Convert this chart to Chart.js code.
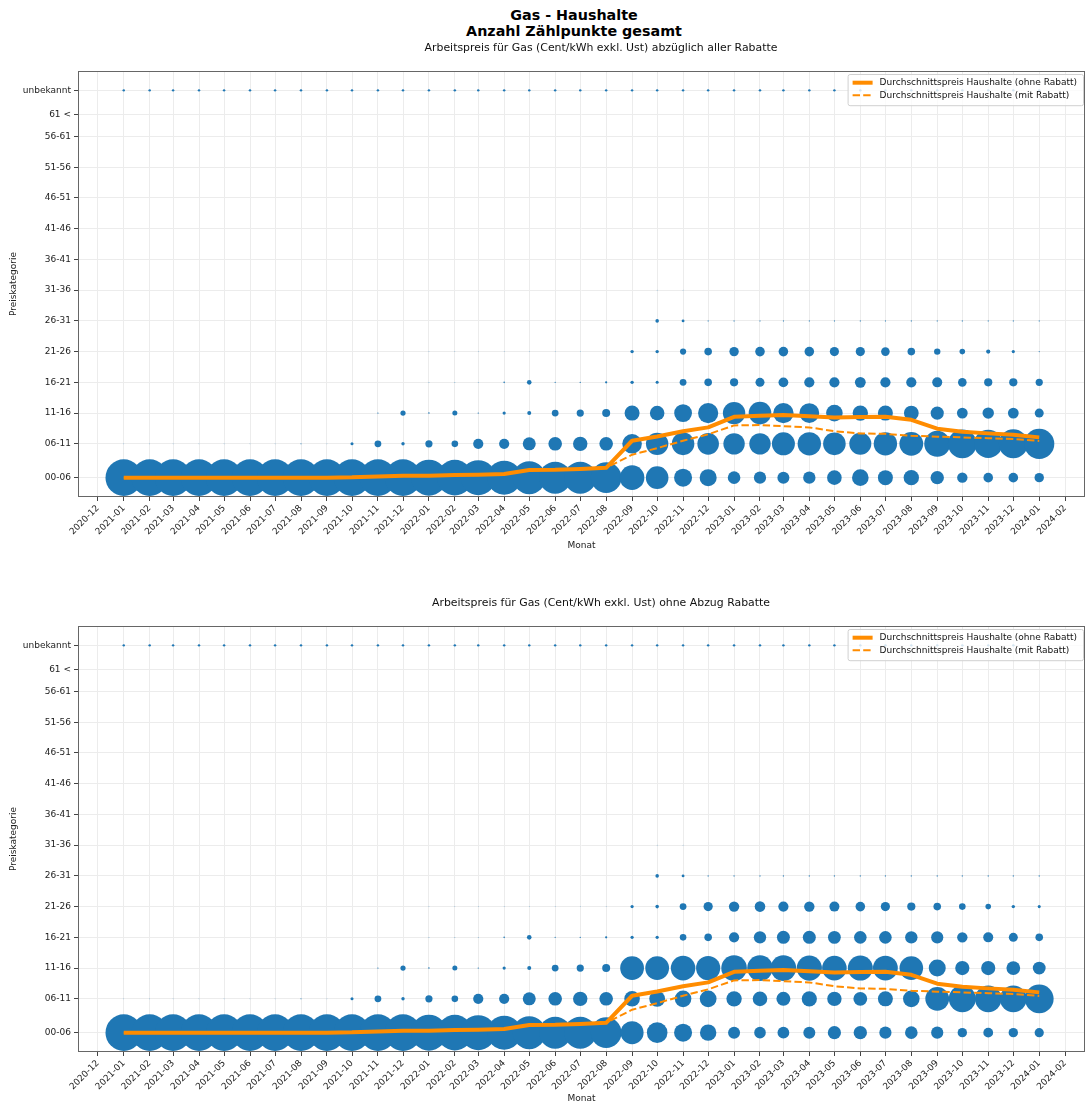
<!DOCTYPE html>
<html>
<head>
<meta charset="utf-8">
<script src="https://cdn.jsdelivr.net/npm/chart.js@4/dist/chart.umd.min.js"></script>
<style>
  body { margin: 0; background: #fff; font-family: "DejaVu Sans", sans-serif; }
  #wrap { position: relative; width: 1086px; height: 1106px; }
  #sup { position: absolute; left: 0; top: 7px; width: 1148px; text-align: center;
         font-weight: bold; font-size: 14.3px; line-height: 16px; color: #000; }
  canvas { position: absolute; left: 0; }
</style>
</head>
<body>
<div id="wrap">
  <div id="sup">Gas - Haushalte<br>Anzahl Zählpunkte gesamt</div>
  <canvas id="c1" width="1086" height="553" style="top:0"></canvas>
  <canvas id="c2" width="1086" height="553" style="top:553px"></canvas>
</div>
<script>
// months with data
const months = ['2021-01','2021-02','2021-03','2021-04','2021-05','2021-06','2021-07','2021-08','2021-09','2021-10','2021-11','2021-12',
  '2022-01','2022-02','2022-03','2022-04','2022-05','2022-06','2022-07','2022-08','2022-09','2022-10','2022-11','2022-12',
  '2023-01','2023-02','2023-03','2023-04','2023-05','2023-06','2023-07','2023-08','2023-09','2023-10','2023-11','2023-12',
  '2024-01'];
const tickMonths = ['2020-12'].concat(months, ['2024-02']);

// price categories and where they sit on the y axis
const categories = ['00-06','06-11','11-16','16-21','21-26','26-31','31-36','36-41','41-46','46-51','51-56','56-61','61 <','unbekannt'];
const catPos = [3, 8.5, 13.5, 18.5, 23.5, 28.5, 33.5, 38.5, 43.5, 48.5, 53.5, 58.5, 62, 66];

// average prices (same in both panels)
const avgOhneRabatt = [3,3,3,3,3,3,3,3,3,3.05,3.2,3.3, 3.3,3.42,3.48,3.6,4.25,4.28,4.4,4.6, 9.0,9.7,10.55,11.18,
  12.9,13.08,13.18,13.0,12.8,12.85,12.92,12.4, 10.97,10.48,10.2,9.98, 9.55];
const avgMitRabatt = [3,3,3,3,3,3,3,3,3,3.05,3.2,3.3, 3.3,3.42,3.48,3.6,4.25,4.28,4.4,4.6, 6.73,7.8,9.0,10.05,
  11.5,11.55,11.37,11.17,10.55,10.2,10.12,9.81, 9.67,9.55,9.41,9.28, 8.97];

// Anzahl Zählpunkte (x100), abzüglich aller Rabatte
const rab_0006 = [3349,3349,3349,3349,3349,3349,3349,3349,3349,3349,3349,3349, 3240,3168,3063,2890,2723,2560,2560,2341,
  1513,1277,810,723, 397,372,360,384, 533,689,563,593, 449,270,230,230, 221];
const rab_0611 = [1,1,1,1,1,1,1,3,1,23,116,29, 130,109,260,260,423,462,518,462,
  960,1254,1277,1166, 1145,1145,1323,1369, 1277,1210,1369,1416, 1690,2074,2016,2103, 2280];
const rab_1116 = [0,0,0,0,0,0,0,0,0,0,4,68, 6,63,4,26,40,116,130,160,
  563,533,792,1020, 1254,1277,1040,980, 689,593,563,548, 436,292,325,292, 203];
const rab_1621 = [0,0,0,0,0,0,0,0,0,0,0,0, 2,2,2,6,53,4,5,12,
  29,23,116,144, 168,203,240,260, 260,292,260,260, 250,185,168,168, 130];
const rab_2126 = [0,0,0,0,0,0,0,0,0,0,0,0, 1,1,1,1,1,1,1,1,
  29,29,96,144, 221,230,230,230, 212,212,185,144, 102,78,44,26, 3];
const rab_2631 = [0,0,0,0,0,0,0,0,0,0,0,0, 0,0,0,0,0,0,0,0,
  0,32,20,3, 3,3,3,3, 3,3,3,3, 3,3,3,3, 3];
const rab_3136 = [0,0,0,0,0,0,0,0,0,0,0,0, 0,0,0,0,0,0,0,0,
  0,1,1,0, 0,0,0,0, 0,0,0,0, 0,0,0,0, 0];
const rab_unbek = [15,15,15,15,15,15,15,15,15,15,15,15, 15,15,15,15,15,15,15,15,
  15,15,15,15, 15,15,15,15, 15,15,15,15, 15,15,15,15, 15];

// Anzahl Zählpunkte (x100), ohne Abzug Rabatte
const ohne_0006 = [3349,3349,3349,3349,3349,3349,3349,3349,3349,3349,3349,3349, 3240,3168,3063,2890,2723,2560,2560,2341,
  1323,1061,810,672, 360,336,348,360, 436,449,372,397, 372,221,240,221, 212];
const ohne_0611 = [1,1,1,1,1,1,1,3,1,23,116,29, 130,109,260,260,423,462,518,462,
  608,624,689,706, 593,533,490,578, 518,476,563,689, 1416,1823,1769,1796, 2074];
const ohne_1116 = [0,0,0,0,0,0,0,0,0,0,4,68, 6,63,4,26,40,116,130,160,
  1416,1416,1513,1464, 1638,1638,1638,1588, 1513,1563,1538,1392, 723,504,504,476, 410];
const ohne_1621 = [0,0,0,0,0,0,0,0,0,0,0,0, 2,2,2,6,53,4,5,12,
  26,26,109,144, 260,384,423,423, 410,397,397,384, 372,270,250,203, 144];
const ohne_2126 = [0,0,0,0,0,0,0,0,0,0,0,0, 1,1,1,1,1,1,1,1,
  26,32,116,212, 270,281,260,270, 250,230,212,168, 144,109,78,29, 23];
const ohne_2631 = [0,0,0,0,0,0,0,0,0,0,0,0, 0,0,0,0,0,0,0,0,
  0,32,20,4, 4,4,4,4, 4,4,4,4, 4,4,4,4, 4];
const ohne_3136 = [0,0,0,0,0,0,0,0,0,0,0,0, 0,0,0,0,0,0,0,0,
  0,1,1,0, 0,0,0,0, 0,0,0,0, 0,0,0,0, 0];
const ohne_unbek = [15,15,15,15,15,15,15,15,15,15,15,15, 15,15,15,15,15,15,15,15,
  15,15,15,15, 15,15,15,15, 15,15,15,15, 15,15,15,15, 15];

Chart.defaults.font.family = '"DejaVu Sans", sans-serif';
Chart.defaults.font.size = 9;
Chart.defaults.color = '#222';

function dayOf(m) {
  const [y, mo] = m.split('-').map(Number);
  return (Date.UTC(y, mo - 1, 1) - Date.UTC(2020, 11, 1)) / 864e5;
}

// axes frame, panel title and the legend box inside the plot
const framePlugin = {
  id: 'frame',
  afterDraw(chart, args, opts) {
    const ctx = chart.ctx, a = chart.chartArea;
    ctx.save();
    ctx.strokeStyle = '#666';
    ctx.lineWidth = 1;
    ctx.strokeRect(a.left + 0.5, a.top + 0.5, a.right - a.left - 1, a.bottom - a.top - 1);

    ctx.fillStyle = '#111';
    ctx.font = '10.9px "DejaVu Sans"';
    ctx.textAlign = 'center';
    ctx.textBaseline = 'middle';
    ctx.fillText(opts.title, 601, opts.titleY);

    const items = chart.data.datasets.filter(d => d.type === 'line');
    ctx.font = '9px "DejaVu Sans"';
    const w = Math.max(...items.map(d => ctx.measureText(d.label).width)) + 38;
    const h = items.length * 12.6 + 6;
    const x0 = a.right - 2 - w, y0 = a.top + 3;
    ctx.beginPath();
    ctx.roundRect(x0 + 0.5, y0 + 0.5, w, h, 2);
    ctx.fillStyle = 'rgba(255,255,255,0.8)';
    ctx.fill();
    ctx.strokeStyle = '#d0d0d0';
    ctx.stroke();
    items.forEach((d, i) => {
      const yy = y0 + 8.7 + i * 12.6;
      ctx.beginPath();
      ctx.strokeStyle = d.borderColor;
      ctx.lineWidth = d.borderWidth;
      ctx.setLineDash(d.borderDash || []);
      ctx.moveTo(x0 + 5, yy);
      ctx.lineTo(x0 + 25, yy);
      ctx.stroke();
      ctx.setLineDash([]);
      ctx.fillStyle = '#111';
      ctx.textAlign = 'left';
      ctx.fillText(d.label, x0 + 32, yy);
    });
    ctx.restore();
  }
};

function makeChart(id, title, titleY, padTop, xHeight, rows) {
  const lineData = arr => months.map((m, i) => ({ x: dayOf(m), y: arr[i] }));
  const datasets = [
    { type: 'line', label: 'Durchschnittspreis Haushalte (ohne Rabatt)', data: lineData(avgOhneRabatt),
      borderColor: '#ff8c00', borderWidth: 4, pointRadius: 0, tension: 0, order: 0, borderJoinStyle: 'round' },
    { type: 'line', label: 'Durchschnittspreis Haushalte (mit Rabatt)', data: lineData(avgMitRabatt),
      borderColor: '#ff8c00', borderWidth: 2, borderDash: [7.4, 3.2], pointRadius: 0, tension: 0, order: 0 }
  ];
  rows.forEach(([cat, vals]) => {
    datasets.push({
      type: 'bubble',
      label: categories[cat],
      data: months.map((m, i) => ({ x: dayOf(m), y: catPos[cat], r: Math.sqrt(vals[i] / 10) })),
      backgroundColor: '#1f77b4',
      borderWidth: 0,
      hoverRadius: 0,
      order: 1
    });
  });

  return new Chart(document.getElementById(id), {
    type: 'bubble',
    data: { datasets },
    options: {
      responsive: false,
      animation: false,
      layout: { autoPadding: false, padding: { top: padTop, left: 0, right: 1, bottom: 0 } },
      plugins: {
        legend: { display: false },
        tooltip: { enabled: false },
        frame: { title, titleY }
      },
      scales: {
        x: {
          type: 'linear',
          min: dayOf('2021-01') - 54.75,
          max: dayOf('2024-01') + 54.75,
          afterBuildTicks: s => { s.ticks = tickMonths.map(m => ({ value: dayOf(m) })); },
          afterFit: s => { s.height = xHeight; s.paddingLeft = 0; s.paddingRight = 0; },
          ticks: { autoSkip: false, maxRotation: 45, minRotation: 45, padding: 2,
                   callback: (v, i) => tickMonths[i] },
          grid: { color: '#ececec', tickColor: '#444', tickLength: 4 },
          border: { display: false },
          title: { display: true, text: 'Monat', color: '#222', padding: { top: 0, bottom: 2 } }
        },
        y: {
          type: 'linear',
          min: -0.15,
          max: 69.15,
          afterBuildTicks: s => { s.ticks = catPos.map(v => ({ value: v })); },
          afterFit: s => { s.width = 78; s.paddingTop = 0; s.paddingBottom = 0; },
          ticks: { padding: 3, callback: (v, i) => categories[i] },
          grid: { color: '#ececec', tickColor: '#444', tickLength: 4 },
          border: { display: false },
          title: { display: true, text: 'Preiskategorie', color: '#222', padding: { top: 8, bottom: 0 } }
        }
      }
    },
    plugins: [framePlugin]
  });
}

makeChart('c1', 'Arbeitspreis für Gas (Cent/kWh exkl. Ust) abzüglich aller Rabatte', 48, 71, 56, [
  [0, rab_0006], [1, rab_0611], [2, rab_1116], [3, rab_1621], [4, rab_2126],
  [5, rab_2631], [6, rab_3136], [13, rab_unbek]
]);
makeChart('c2', 'Arbeitspreis für Gas (Cent/kWh exkl. Ust) ohne Abzug Rabatte', 50, 73, 54, [
  [0, ohne_0006], [1, ohne_0611], [2, ohne_1116], [3, ohne_1621], [4, ohne_2126],
  [5, ohne_2631], [6, ohne_3136], [13, ohne_unbek]
]);
</script>
</body>
</html>
